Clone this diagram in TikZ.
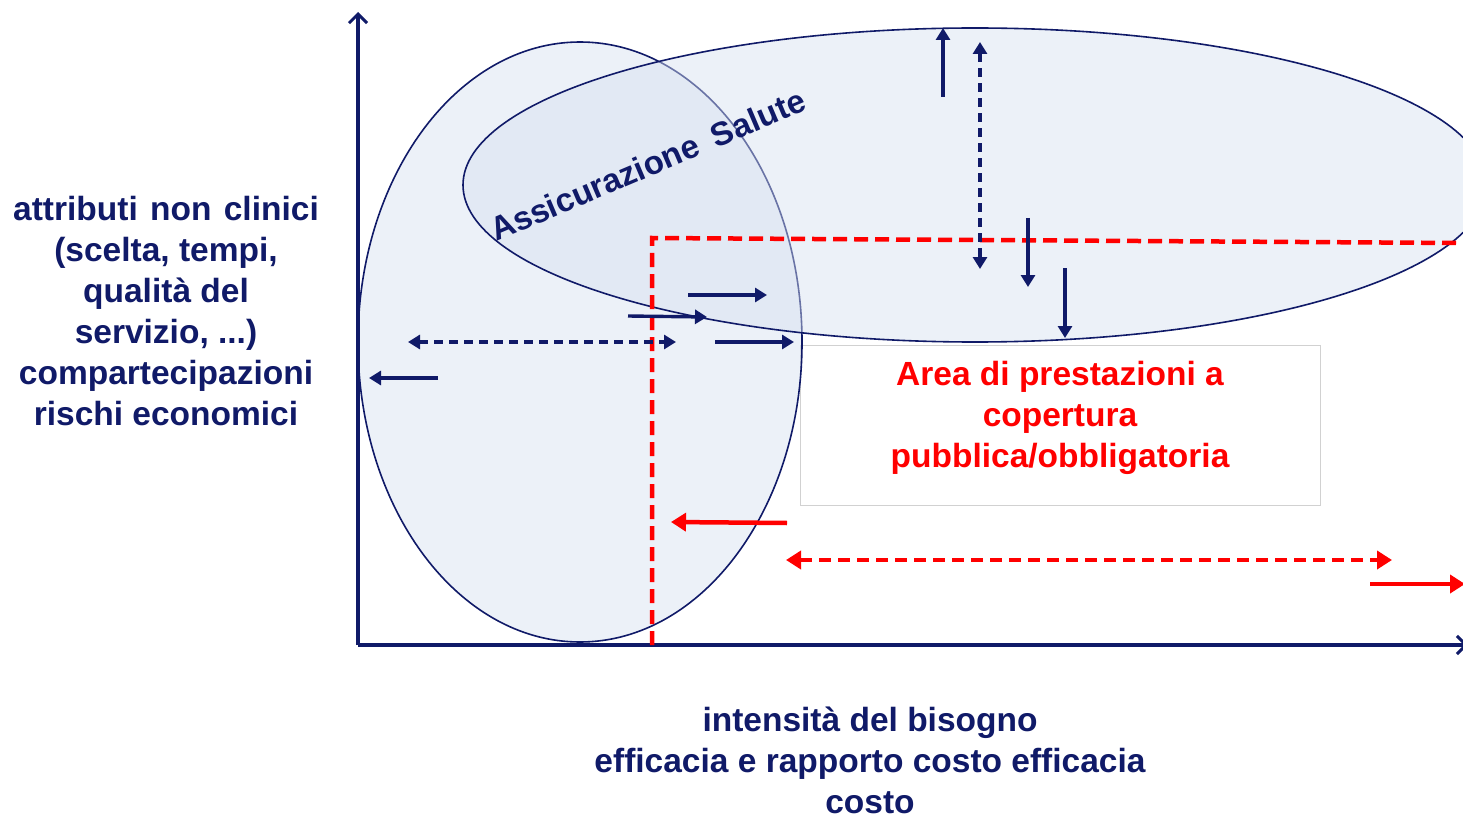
\documentclass[tikz,border=0pt]{standalone}
\usepackage{fontspec}
\setmainfont{Liberation Sans}
\usetikzlibrary{arrows.meta}
\definecolor{navy}{RGB}{16,26,104}
\definecolor{fillc}{RGB}{214,224,240}
\definecolor{pred}{RGB}{255,0,0}
\begin{document}
\begin{tikzpicture}[x=1pt,y=-1pt,
  axisline/.style={line width=3.6pt, navy, -{Straight Barb[length=9pt,width=18pt,line width=3pt]}},
  ell/.style={draw=navy, line width=1.6pt, fill=fillc, fill opacity=0.45},
  reddash/.style={pred, line width=4.5pt, dash pattern=on 14pt off 7pt},
  narr/.style={navy, line width=3.4pt, -{Triangle[length=12pt,width=14pt]}},
  ndarr/.style={navy, line width=3.4pt, dash pattern=on 9pt off 6pt, {Triangle[length=12pt,width=14pt]}-{Triangle[length=12pt,width=14pt]}},
  rarr/.style={pred, line width=4.5pt, -{Triangle[length=15pt,width=18pt]}},
  rdarr/.style={pred, line width=4.5pt, dash pattern=on 12pt off 7pt, {Triangle[length=15pt,width=18pt]}-{Triangle[length=15pt,width=18pt]}},
  lbl/.style={font=\bfseries\fontsize{33.5}{41}\selectfont, align=center, inner sep=0pt},
]
\clip (0,0) rectangle (1463,818);
\fill[white] (0,0) rectangle (1463,818);

% white box
\node[draw=black!18, line width=1pt, fill=white, minimum width=520pt, minimum height=160pt, inner sep=0pt] (box) at (1060,425) {};

% ellipses
\path[ell] (580,342) ellipse [x radius=222pt, y radius=300pt];
\path[ell] (975,185) ellipse [x radius=512pt, y radius=157pt];

% axes
\coordinate (O) at (358,645);
\coordinate (ytop) at (358,12);
\coordinate (xend) at (1468,645);
\draw[axisline] (O) -- (ytop);
\draw[axisline] (O) -- (xend);

% red dashed boundary
\coordinate (rc) at (652,238);
\coordinate (rb) at (652,645);
\coordinate (rr) at (1462,243);
\draw[reddash] (rb) -- (rc) -- (rr);

% navy vertical arrows
\coordinate (v1a) at (943,97);  \coordinate (v1b) at (943,28);
\coordinate (v2a) at (980,42);  \coordinate (v2b) at (980,269);
\coordinate (v3a) at (1028,218); \coordinate (v3b) at (1028,287);
\coordinate (v4a) at (1065,268); \coordinate (v4b) at (1065,338);
\draw[narr] (v1a) -- (v1b);
\draw[ndarr] (v2a) -- (v2b);
\draw[narr] (v3a) -- (v3b);
\draw[narr] (v4a) -- (v4b);

% navy horizontal arrows
\coordinate (h1a) at (688,295); \coordinate (h1b) at (767,295);
\coordinate (h2a) at (628,316); \coordinate (h2b) at (707,317);
\coordinate (h3a) at (408,342); \coordinate (h3b) at (676,342);
\coordinate (h4a) at (715,342); \coordinate (h4b) at (794,342);
\coordinate (h5a) at (438,378); \coordinate (h5b) at (369,378);
\draw[narr] (h1a) -- (h1b);
\draw[narr] (h2a) -- (h2b);
\draw[ndarr] (h3a) -- (h3b);
\draw[narr] (h4a) -- (h4b);
\draw[narr] (h5a) -- (h5b);

% red arrows
\coordinate (r1a) at (787,523); \coordinate (r1b) at (671,522);
\coordinate (r2a) at (786,560); \coordinate (r2b) at (1392,560);
\coordinate (r3a) at (1370,584); \coordinate (r3b) at (1465,584);
\draw[rarr] (r1a) -- (r1b);
\draw[rdarr] (r2a) -- (r2b);
\draw[rarr] (r3a) -- (r3b);

% texts
\node[lbl, navy, anchor=base west, rotate=23, font=\bfseries\fontsize{33}{38}\selectfont] (ass) at (496,242) {Assicurazione\hspace{7pt} Salute};
\node[lbl, navy] (ylab) at (166,311) {attributi\hspace{3pt} non\hspace{3pt} clinici\\(scelta, tempi,\\qualità del\\servizio, ...)\\compartecipazioni\\rischi economici};
\node[lbl, navy] (xlab) at (870,760) {intensità del bisogno\\efficacia e rapporto costo efficacia\\costo};
\node[lbl, pred] (area) at (1060,418) {Area di prestazioni a\\copertura\\pubblica/obbligatoria};
\end{tikzpicture}
\end{document}
